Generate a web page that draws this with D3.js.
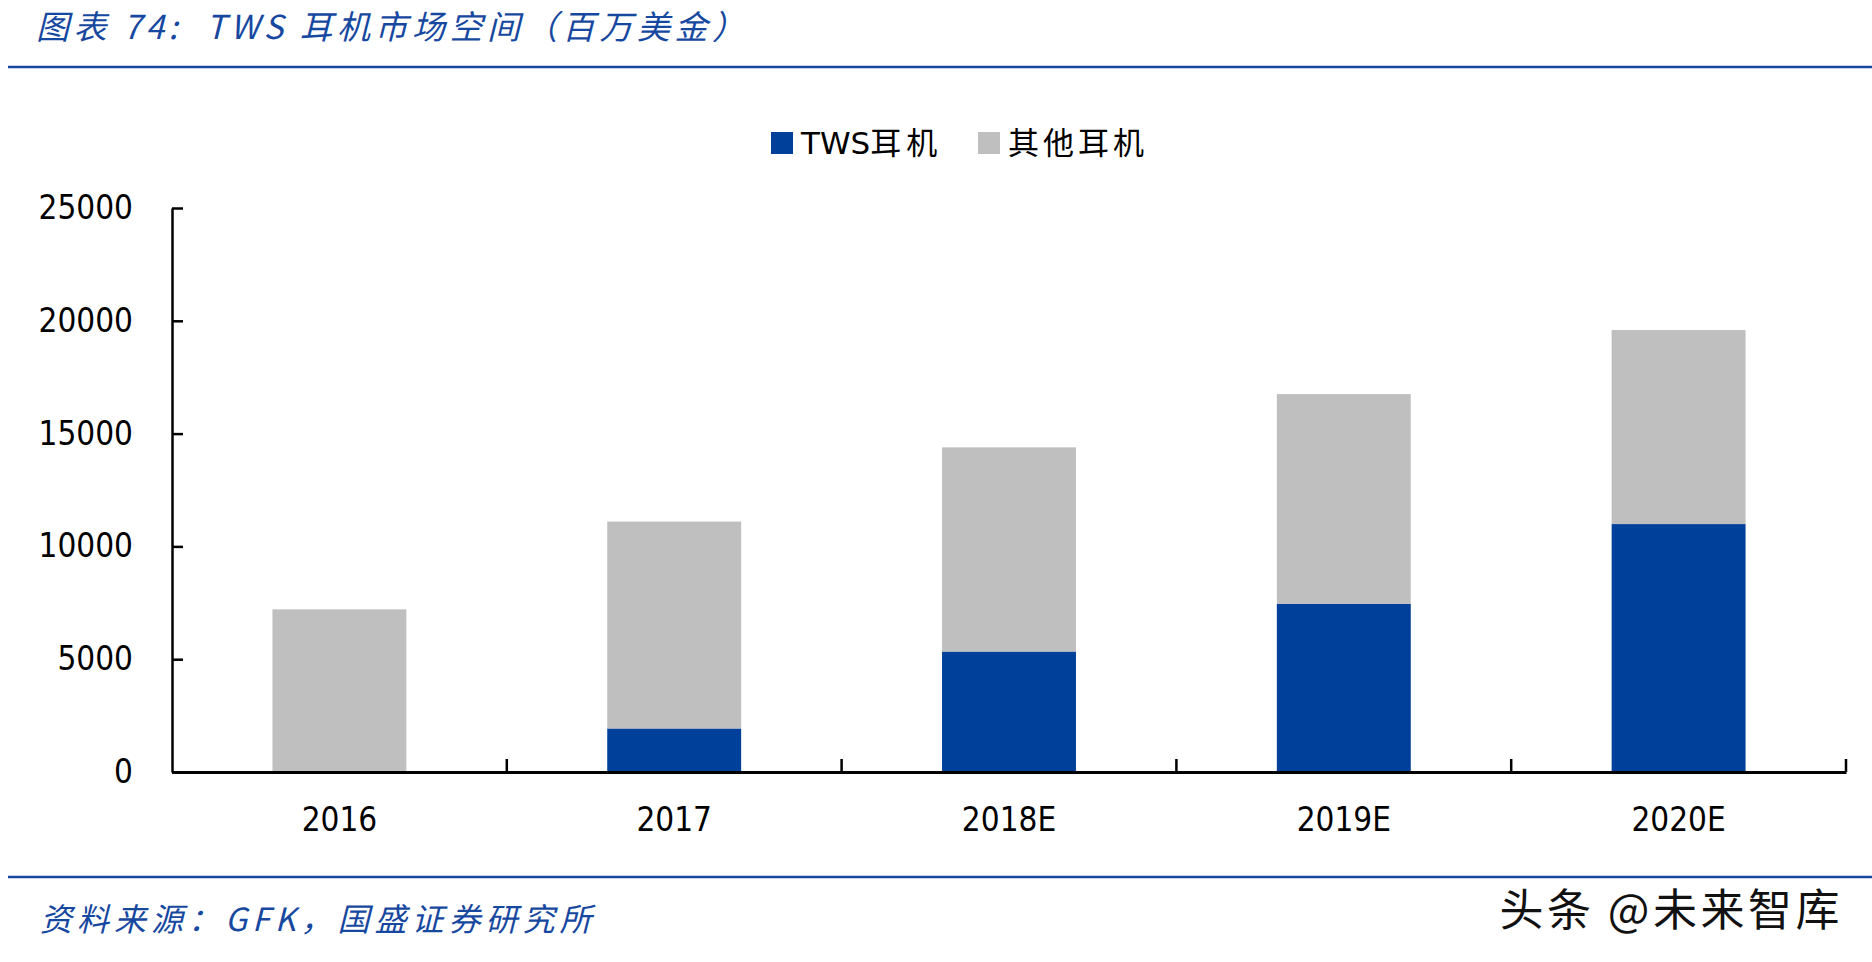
<!DOCTYPE html>
<html lang="zh">
<head>
<meta charset="UTF-8">
<title>TWS耳机市场空间</title>
<script src="https://d3js.org/d3.v7.min.js"></script>
<style>
  body { margin: 0; background: #fff; }
  .cjk { font-family: "Noto Sans CJK SC", sans-serif; white-space: pre; }
  .num { font-family: "DejaVu Sans Condensed", "DejaVu Sans", sans-serif; font-stretch: condensed; }
</style>
</head>
<body>
<div id="chart"></div>
<script>
// data (百万美金)
const years = ["2016", "2017", "2018E", "2019E", "2020E"];
const tws = [0, 1930, 5340, 7460, 10990];
const other = [7210, 9170, 9050, 9290, 8600];   // 其他耳机, stacked on top of TWS
const seriesNames = ["TWS耳机", "其他耳机"];
const yTicks = [0, 5000, 10000, 15000, 20000, 25000];

const W = 1872, H = 962;
const blue = "#00409a", gray = "#bfbfbf", titleBlue = "#1748a0";

const svg = d3.select("#chart").append("svg")
    .attr("width", W).attr("height", H);

// title + rules
svg.append("text").attr("class", "cjk")
    .attr("x", 36).attr("y", 39)
    .attr("font-size", 33).attr("font-style", "italic")
    .attr("fill", titleBlue).attr("letter-spacing", 4.5)
    .text("图表 74:  TWS 耳机市场空间（百万美金）");
svg.append("line").attr("x1", 8).attr("x2", W).attr("y1", 67).attr("y2", 67)
    .attr("stroke", titleBlue).attr("stroke-width", 2.5);
svg.append("line").attr("x1", 8).attr("x2", W).attr("y1", 877).attr("y2", 877)
    .attr("stroke", titleBlue).attr("stroke-width", 2.5);

svg.append("text").attr("class", "cjk")
    .attr("x", 40).attr("y", 931)
    .attr("font-size", 32).attr("font-style", "italic")
    .attr("fill", titleBlue).attr("letter-spacing", 5)
    .text("资料来源：GFK，国盛证券研究所");
svg.append("text").attr("class", "cjk")
    .attr("x", 1843).attr("y", 926).attr("text-anchor", "end")
    .attr("font-size", 44).attr("fill", "#111").attr("letter-spacing", 3.5)
    .text("头条 @未来智库");

// scales
const x = d3.scaleBand().domain(years).range([172, 1846]).paddingInner(0.6).paddingOuter(0.3);
const y = d3.scaleLinear().domain([0, 25000]).range([772, 208]);

const stacked = d3.stack().keys([0, 1])(years.map((c, i) => ({0: tws[i], 1: other[i]})));
const colors = [blue, gray];

svg.append("g").selectAll("g")
    .data(stacked)
    .join("g")
    .attr("fill", (d, i) => colors[i])
    .selectAll("rect")
    .data(d => d)
    .join("rect")
    .attr("x", (d, i) => x(years[i]))
    .attr("width", x.bandwidth())
    .attr("y", d => y(d[1]))
    .attr("height", d => y(d[0]) - y(d[1]));

// y axis, ticks pointing inward
const yAxis = svg.append("g")
    .attr("transform", "translate(172,0)")
    .call(d3.axisLeft(y).tickValues(yTicks).tickFormat(d3.format("d"))
        .tickSize(-11).tickSizeOuter(0).tickPadding(39));
yAxis.select(".domain").attr("stroke", "#000").attr("stroke-width", 2.5);
yAxis.selectAll(".tick line").attr("stroke", "#000").attr("stroke-width", 2.5);
yAxis.selectAll("text").attr("class", "num").attr("font-size", 33).attr("fill", "#000");

// x axis: labels under bars, ticks between categories
const xAxis = svg.append("g")
    .attr("transform", "translate(0,772)")
    .call(d3.axisBottom(x).tickSize(0).tickPadding(36));
xAxis.select(".domain").attr("stroke", "#000").attr("stroke-width", 3);
xAxis.selectAll("text").attr("class", "num").attr("font-size", 33).attr("fill", "#000");

const [x0, x1] = x.range();
xAxis.selectAll(".sep")
    .data(d3.range(1, years.length + 1))
    .join("line")
    .attr("class", "sep")
    .attr("x1", i => x0 + (x1 - x0) * i / years.length)
    .attr("x2", i => x0 + (x1 - x0) * i / years.length)
    .attr("y1", 0).attr("y2", -13)
    .attr("stroke", "#000").attr("stroke-width", 2.5);

// legend
const legend = svg.append("g").attr("transform", "translate(0,143)");
const legendX = [771, 978];
seriesNames.forEach((name, i) => {
  legend.append("rect").attr("x", legendX[i]).attr("y", -11)
      .attr("width", 22).attr("height", 22).attr("fill", colors[i]);
  const t = legend.append("text").attr("x", legendX[i] + 30).attr("y", 11)
      .attr("font-size", 31).attr("fill", "#000");
  if (name.startsWith("TWS")) {
    t.append("tspan").attr("font-family", "DejaVu Sans, sans-serif").text("TWS");
    t.append("tspan").attr("class", "cjk").attr("letter-spacing", 5).text(name.slice(3));
  } else {
    t.append("tspan").attr("class", "cjk").attr("letter-spacing", 4).text(name);
  }
});
</script>
</body>
</html>
